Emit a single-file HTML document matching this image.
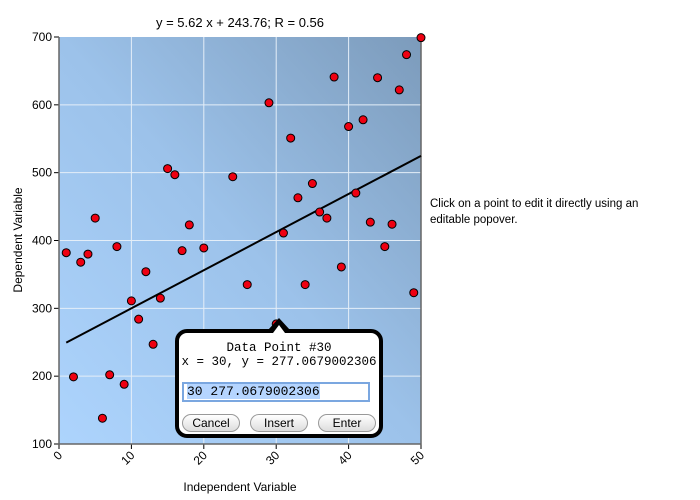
<!DOCTYPE html>
<html><head><meta charset="utf-8"><style>
body{margin:0;width:700px;height:500px;background:#fff;font-family:"Liberation Sans",sans-serif;overflow:hidden;position:relative}
.pop{position:absolute;left:175px;top:329px;width:200px;height:101px;border:4px solid #000;border-radius:12px;background:#fff;font-family:"Liberation Mono",monospace;font-size:12.5px;text-align:center}
.btn{position:absolute;top:81px;height:16px;border:1px solid #999;border-radius:9px;background:linear-gradient(#fff,#ddd);font-family:"Liberation Sans",sans-serif;font-size:12px;line-height:16px;text-align:center}
</style></head><body>
<svg id="chart" width="700" height="500" style="position:absolute;left:0;top:0">
<defs><linearGradient id="bg" x1="0" y1="1" x2="1" y2="0"><stop offset="0" stop-color="#add4fd"/><stop offset="0.5" stop-color="#9cc2ea"/><stop offset="1" stop-color="#7c9bbb"/></linearGradient></defs>
<g id="g"></g>
</svg>
<div style="position:absolute;left:430px;top:196px;font-size:11.5px;line-height:16px;width:240px">Click on a point to edit it directly using an editable popover.</div>
<div style="position:absolute;left:268px;top:318px;width:0;height:0;border-left:11px solid transparent;border-right:11px solid transparent;border-bottom:12px solid #000"></div>
<div style="position:absolute;left:273px;top:325px;width:0;height:0;border-left:6px solid transparent;border-right:6px solid transparent;border-bottom:8px solid #fff;z-index:2"></div>
<div class="pop">
<div style="margin-top:8px">Data Point #30</div>
<div>x = 30, y = 277.0679002306</div>
<div style="position:absolute;left:3px;top:49px;width:188px;height:20px;border:2px solid #7ba7e0;box-sizing:border-box;text-align:left;font-size:13px;line-height:16px;padding-left:3px"><span style="background:#b5d5ff">30 277.0679002306</span></div>
<div class="btn" style="left:3px;width:56px">Cancel</div>
<div class="btn" style="left:71px;width:56px">Insert</div>
<div class="btn" style="left:139px;width:56px">Enter</div>
</div>
<script>
const xs=[1,2,3,4,5,6,7,8,9,10,11,12,13,14,15,16,17,18,20,24,26,29,30,31,32,33,34,35,36,37,38,39,40,41,42,43,44,45,46,47,48,49,50];
const ys=[382,199,368,380,433,138,202,391,188,311,284,354,247,315,506,497,385,423,389,494,335,603,277,411,551,463,335,484,442,433,641,361,568,470,578,427,640,391,424,622,674,323,699];
const xTicks=[0,10,20,30,40,50];
const yTicks=[100,200,300,400,500,600,700];
const slope=5.62, intercept=243.76;
const X0=59,X1=421,Y0=444,Y1=37;
const sx=v=>X0+(v-0)/50*(X1-X0), sy=v=>Y0-(v-100)/600*(Y0-Y1);
const g=document.getElementById('g'),NS='http://www.w3.org/2000/svg';
function mk(t,a,txt){const e=document.createElementNS(NS,t);for(const k in a)e.setAttribute(k,a[k]);if(txt!=null)e.textContent=txt;g.appendChild(e);return e;}
let e=mk('rect',{x:X0,y:Y1,width:X1-X0,height:Y0-Y1,fill:'url(#bg)'});

xTicks.forEach(t=>{if(t>0&&t<50){e=mk('line',{x1:sx(t),x2:sx(t),y1:Y1,y2:Y0,stroke:'#e4eef8','stroke-width':1});}
 e=mk('line',{x1:sx(t),x2:sx(t),y1:Y0,y2:Y0+5,stroke:'#000'});
 e=mk('text',{x:sx(t)+4,y:Y0+12,'font-size':12,'text-anchor':'end',transform:`rotate(-45 ${sx(t)+4} ${Y0+12})`},t);});
yTicks.forEach(t=>{if(t>100&&t<700){e=mk('line',{x1:X0,x2:X1,y1:sy(t),y2:sy(t),stroke:'#e4eef8','stroke-width':1});}
 e=mk('line',{x1:X0-5,x2:X0,y1:sy(t),y2:sy(t),stroke:'#000'});
 e=mk('text',{x:X0-7,y:sy(t)+4,'font-size':12,'text-anchor':'end'},t);});
e=mk('path',{d:`M${X0} ${Y1}V${Y0}H${X1}V${Y1}`,fill:'none',stroke:'#666','stroke-width':1.5});
const xa=Math.min(...xs),xb=Math.max(...xs);
e=mk('line',{x1:sx(xa),y1:sy(slope*xa+intercept),x2:sx(xb),y2:sy(slope*xb+intercept),stroke:'#000','stroke-width':2});

xs.forEach((x,i)=>{e=mk('circle',{cx:sx(x),cy:sy(ys[i]),r:4,fill:'#ee0011',stroke:'#000','stroke-width':1});
 });
e=mk('text',{x:240,y:27,'font-size':13,'text-anchor':'middle'},'y = 5.62 x + 243.76; R = 0.56');
e=mk('text',{x:240,y:491,'font-size':12,'text-anchor':'middle'},'Independent Variable');
e=mk('text',{x:22,y:240,'font-size':12,'text-anchor':'middle',transform:'rotate(-90 22 240)'},'Dependent Variable');
</script>
</body></html>
